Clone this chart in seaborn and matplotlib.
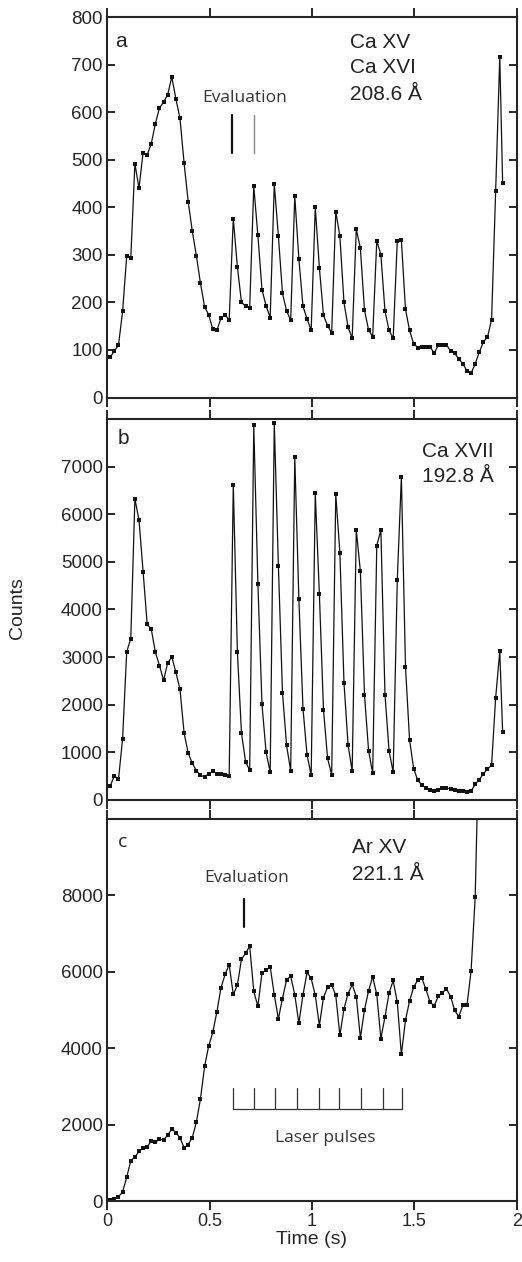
import numpy as np
import pandas as pd
import matplotlib
matplotlib.use("Agg")
import matplotlib.pyplot as plt
import seaborn as sns

# sample times (s), 0.02 s spacing
time_s = [0.016, 0.036, 0.056, 0.076, 0.096, 0.116, 0.136, 0.156, 0.176, 0.196,
          0.216, 0.236, 0.256, 0.276, 0.296, 0.316, 0.336, 0.356, 0.376, 0.396,
          0.416, 0.436, 0.456, 0.476, 0.496, 0.516, 0.536, 0.556, 0.576, 0.596,
          0.616, 0.636, 0.656, 0.676, 0.696, 0.716, 0.736, 0.756, 0.776, 0.796,
          0.816, 0.836, 0.856, 0.876, 0.896, 0.916, 0.936, 0.956, 0.976, 0.996,
          1.016, 1.036, 1.056, 1.076, 1.096, 1.116, 1.136, 1.156, 1.176, 1.196,
          1.216, 1.236, 1.256, 1.276, 1.296, 1.316, 1.336, 1.356, 1.376, 1.396,
          1.416, 1.436, 1.456, 1.476, 1.496, 1.516, 1.536, 1.556, 1.576, 1.596,
          1.616, 1.636, 1.656, 1.676, 1.696, 1.716, 1.736, 1.756, 1.776, 1.796,
          1.816, 1.836, 1.856, 1.876, 1.896, 1.916, 1.930]

# a: Ca XV / Ca XVI 208.6 A
counts_a = [85, 98, 110, 181, 297, 294, 492, 440, 515, 510,
            534, 576, 609, 621, 637, 674, 628, 587, 493, 412,
            350, 298, 240, 191, 174, 144, 141, 167, 174, 163,
            376, 275, 200, 192, 189, 444, 341, 227, 193, 168,
            448, 340, 219, 182, 163, 423, 291, 192, 165, 142,
            400, 273, 173, 151, 136, 391, 339, 200, 148, 125,
            354, 314, 184, 142, 128, 330, 300, 182, 141, 125,
            329, 331, 186, 141, 113, 105, 107, 107, 107, 93,
            110, 111, 111, 98, 93, 81, 71, 56, 51, 71,
            95, 117, 127, 163, 435, 717, 451]

# b: Ca XVII 192.8 A
counts_b = [294, 511, 434, 1282, 3109, 3389, 6324, 5882, 4797, 3690,
            3585, 3102, 2822, 2514, 2878, 3004, 2682, 2325, 1408, 987,
            770, 616, 518, 483, 553, 602, 553, 539, 532, 511,
            6624, 3109, 1400, 805, 623, 7864, 4545, 2010, 1001, 588,
            7906, 4923, 2255, 1148, 609, 7192, 4216, 1919, 938, 525,
            6436, 4321, 1898, 875, 532, 6422, 5189, 2465, 1155, 609,
            5672, 4804, 2213, 1036, 560, 5343, 5665, 2213, 1029, 581,
            4615, 6786, 2801, 1260, 658, 413, 315, 245, 203, 189,
            217, 252, 252, 231, 210, 196, 189, 175, 189, 329,
            427, 546, 651, 728, 2150, 3123, 1422]

# c: Ar XV 221.1 A (last point is off scale)
counts_c = [34, 60, 113, 236, 622, 1058, 1147, 1304, 1383, 1417,
            1575, 1540, 1619, 1601, 1724, 1890, 1793, 1654, 1400, 1478,
            1662, 2066, 2677, 3525, 4060, 4417, 4953, 5583, 5932, 6186,
            5407, 5651, 6333, 6483, 6675, 5486, 5100, 5976, 6037, 6134,
            5399, 4769, 5302, 5793, 5887, 5399, 4654, 5399, 5984, 5827,
            5389, 4593, 5328, 5591, 5661, 5381, 4339, 5031, 5433, 5669,
            5354, 4270, 5005, 5504, 5871, 5407, 4252, 4821, 5442, 5774,
            5205, 3840, 4732, 5241, 5591, 5793, 5835, 5538, 5205, 5110,
            5362, 5451, 5556, 5354, 4995, 4829, 5126, 5126, 6018, 7953,
            12500]

laser_pulses = [0.617, 0.718, 0.819, 0.929, 1.034, 1.134, 1.239, 1.346, 1.440]

sns.set_style("ticks")
plt.rcParams['font.family'] = ['Liberation Sans', 'DejaVu Sans']
label_font = ['Open Sans', 'DejaVu Sans']
txt_col = '#222222'

fig = plt.figure(figsize=(5.22, 12.62), dpi=100)
ax_a = fig.add_axes([0.205, 0.685, 0.7854, 0.3015])
ax_b = fig.add_axes([0.205, 0.3661, 0.7854, 0.3019])
ax_c = fig.add_axes([0.205, 0.0483, 0.7854, 0.3027])

panels = [(ax_a, counts_a, 800, 100, 800), (ax_b, counts_b, 8000, 1000, 7000),
          (ax_c, counts_c, 10000, 2000, 8000)]

for ax, counts, ymax, step, lab_max in panels:
    df = pd.DataFrame({'t': time_s[:len(counts)], 'n': counts})
    sns.lineplot(data=df, x='t', y='n', ax=ax, color='#111111', linewidth=0.9,
                 marker='s', markersize=2.6, markeredgewidth=0, sort=False, estimator=None)
    ax.set_xlim(0, 2)
    ax.set_ylim(0, ymax)
    ticks = np.arange(0, ymax + 1, step)
    ax.set_yticks(ticks)
    ax.set_yticklabels([str(int(v)) if v <= lab_max else '' for v in ticks])
    ax.set_xticks([0, 0.5, 1, 1.5, 2])
    ax.tick_params(axis='y', direction='in', length=6, width=1.4, left=True, right=True,
                   labelsize=13.5, pad=3)
    ax.tick_params(axis='x', direction='out', length=6.5, width=1.4, top=True, bottom=True,
                   labelsize=13, pad=2)
    for s in ax.spines.values():
        s.set_linewidth(1.5)
        s.set_visible(True)
    ax.set_xlabel('')
    ax.set_ylabel('')

ax_a.set_xticklabels([])
ax_b.set_xticklabels([])
ax_c.set_xticklabels(['0', '0.5', '1', '1.5', '2'])
ax_c.set_xlabel('Time (s)', fontsize=14, labelpad=1)
fig.text(0.033, 0.518, 'Counts', rotation=90, fontsize=14, ha='center', va='center')

# panel a annotations
ax_a.text(0.039, 736, 'a', fontsize=15, color=txt_col)
ax_a.text(1.187, 735, 'Ca XV', fontsize=15, color=txt_col)
ax_a.text(1.187, 682, 'Ca XVI', fontsize=15, color=txt_col)
ax_a.text(1.187, 626, '208.6 Å', fontsize=15, color=txt_col)
ax_a.text(0.671, 621, 'Evaluation', fontsize=12.5, ha='center', color='#333333', family=label_font)
ax_a.plot([0.610, 0.610], [515, 593], color='#111111', linewidth=1.6)
ax_a.plot([0.716, 0.716], [515, 593], color='#888888', linewidth=1.0)

# panel b annotations
ax_b.text(0.05, 7473, 'b', fontsize=15, color=txt_col)
ax_b.text(1.537, 7199, 'Ca XVII', fontsize=15, color=txt_col)
ax_b.text(1.537, 6687, '192.8 Å', fontsize=15, color=txt_col)

# panel c annotations
ax_c.text(0.055, 9257, 'c', fontsize=14, color=txt_col, family=label_font)
ax_c.text(1.195, 9100, 'Ar XV', fontsize=15, color=txt_col)
ax_c.text(1.195, 8407, '221.1 Å', fontsize=15, color=txt_col)
ax_c.text(0.682, 8339, 'Evaluation', fontsize=12.5, ha='center', color='#333333', family=label_font)
ax_c.plot([0.669, 0.669], [7165, 7900], color='#111111', linewidth=1.6)
ax_c.plot([laser_pulses[0], laser_pulses[-1]], [2415, 2415], color='#333333', linewidth=0.9)
for p in laser_pulses:
    ax_c.plot([p, p], [2415, 2958], color='#333333', linewidth=0.9)
ax_c.text(1.064, 1557, 'Laser pulses', fontsize=12.5, ha='center', color='#333333', family=label_font)

fig.savefig("out.png", dpi=100)
